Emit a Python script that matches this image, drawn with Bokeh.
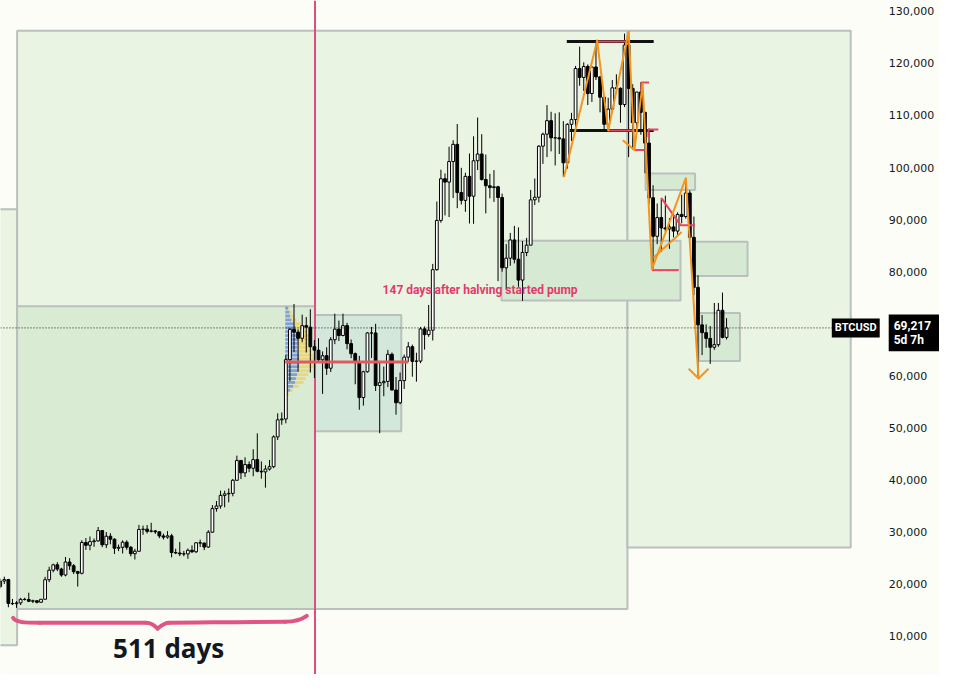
import numpy as np
import pandas as pd
from bokeh.plotting import figure
from bokeh.models import Range1d, FixedTicker, NumeralTickFormatter, Label
from bokeh.core.properties import value
from bokeh.embed import file_html
from bokeh.resources import INLINE

# ---------------------------------------------------------------- data
ORIGIN = pd.Timestamp("2022-11-07")


def wk(d):
    return (pd.Timestamp(d) - ORIGIN) / pd.Timedelta(days=7)


def wks(ds):
    return [wk(d) for d in ds]


K = 1000.0

# weekly BTCUSD candles (thousand USD), weeks starting 2022-10-24
open_k = [
    19.57, 20.63, 20.91, 16.33, 16.28, 16.43, 17.11, 17.09, 16.75, 16.84,
    16.55, 17.13, 20.88, 22.71, 23.74, 22.93, 21.78, 24.28, 23.56, 22.43, 22.12, 28.03, 27.49, 28.19, 28.33, 30.31,
    27.59, 29.23, 28.66, 26.92, 27.10, 28.08, 27.11, 25.88, 26.34, 30.53, 30.59, 30.17, 30.25, 30.08, 29.28, 29.05,
    29.30, 26.10, 26.01, 25.83, 25.84, 26.53, 26.25, 27.97, 27.92, 27.15, 30.01, 34.53, 35.04, 37.07, 37.36, 37.46,
    39.97, 43.78, 41.39, 42.99,
    42.28, 43.94, 41.70, 41.58, 42.12, 42.58, 48.30, 51.57, 51.73, 63.12, 68.95, 68.40, 67.23, 69.65, 69.36, 65.60,
    64.94, 63.10, 63.88, 61.48, 66.95, 68.98, 67.76, 69.65, 66.20, 64.27, 62.70, 55.85, 60.80, 68.25, 68.25, 58.15,
    58.70, 58.95, 64.15, 57.30, 54.85, 59.10, 63.60, 65.60, 62.80, 62.85, 69.03, 67.93, 68.78, 80.40, 89.85, 97.85,
    97.20, 101.15, 104.45, 95.20, 93.70,
    98.30, 94.50, 101.30, 102.60, 97.70, 96.50, 96.15, 96.30, 94.25, 80.75, 82.60, 86.10, 82.40, 78.40, 83.70, 85.10,
    93.80, 94.30, 104.10, 106.40, 109.00, 105.70, 105.70, 105.50, 100.90, 108.30, 109.20, 119.00, 117.30, 119.40,
    114.20, 119.30, 117.40, 113.50, 108.30, 111.20, 115.30, 115.20, 112.10, 123.50, 115.20, 108.60, 114.50, 110.60,
    104.70, 94.20, 86.80, 90.40, 88.40, 88.20, 88.60, 87.80,
    91.00, 90.60, 95.10, 86.60, 77.00, 69.80, 68.30, 67.20, 65.50, 66.00, 72.60, 67.40,
]
high_k = [
    21.09, 21.47, 21.05, 17.19, 16.77, 17.39, 17.42, 18.39, 17.05, 16.96,
    17.18, 21.44, 23.37, 23.95, 24.25, 23.18, 25.25, 25.02, 23.88, 22.60, 28.47, 28.87, 29.18, 28.80, 31.00, 30.32,
    30.04, 29.82, 28.83, 27.63, 28.44, 28.45, 27.36, 26.80, 31.40, 31.27, 31.38, 31.81, 30.44, 30.10, 29.72, 30.20,
    29.68, 26.82, 28.14, 26.41, 26.88, 27.48, 28.05, 28.58, 28.00, 30.38, 35.20, 35.98, 37.98, 37.97, 38.40, 40.22,
    44.70, 43.80, 44.38, 43.59,
    45.92, 48.97, 43.58, 42.85, 43.88, 48.59, 52.82, 52.98, 64.00, 69.17, 73.80, 68.95, 71.76, 71.30, 72.80, 66.88,
    67.23, 64.70, 65.50, 67.45, 71.95, 70.62, 71.95, 70.20, 66.99, 64.50, 63.85, 61.00, 68.40, 69.40, 70.00, 62.73,
    61.80, 65.00, 64.50, 59.80, 60.65, 64.10, 66.50, 66.00, 64.45, 69.40, 69.50, 73.62, 81.50, 93.48, 99.59, 98.87,
    104.00, 105.25, 108.35, 99.95, 99.00,
    102.70, 106.00, 109.60, 106.40, 102.50, 98.80, 99.50, 96.50, 95.00, 85.30, 87.45, 88.80, 88.50, 85.90, 86.50,
    95.70, 97.90, 104.30, 106.70, 111.98, 110.70, 110.40, 110.60, 108.90, 108.50, 110.50, 119.50, 123.20, 120.20,
    119.80, 119.30, 124.50, 117.60, 113.60, 113.40, 116.80, 117.90, 115.40, 125.70, 126.20, 116.00, 113.90, 116.40,
    110.70, 107.50, 96.60, 93.10, 94.10, 94.60, 90.30, 90.60, 91.40,
    94.80, 97.90, 95.60, 90.60, 79.30, 71.70, 69.90, 69.60, 74.00, 74.00, 76.00, 71.10,
]
low_k = [
    19.24, 20.05, 15.59, 16.01, 15.48, 16.03, 16.88, 16.59, 16.40, 16.33,
    16.49, 17.12, 20.41, 22.30, 22.53, 21.45, 21.53, 22.77, 21.97, 19.57, 21.90, 26.60, 26.53, 27.20, 28.17, 27.13,
    26.96, 27.68, 25.82, 26.37, 25.91, 26.62, 25.35, 24.76, 26.25, 29.50, 29.75, 29.95, 29.67, 28.86, 28.60, 28.75,
    25.17, 25.80, 25.40, 25.38, 24.90, 26.00, 26.00, 27.17, 26.56, 27.00, 29.88, 33.95, 34.52, 34.78, 35.74, 36.90,
    39.90, 40.20, 40.60, 41.52,
    40.75, 41.50, 40.28, 38.55, 41.82, 42.30, 47.70, 50.62, 50.90, 59.00, 64.60, 60.80, 66.47, 64.50, 60.66, 59.60,
    62.79, 56.55, 60.20, 60.75, 66.10, 66.70, 67.60, 65.10, 63.40, 58.40, 53.50, 54.30, 60.63, 63.45, 57.10, 49.00,
    56.10, 57.85, 57.20, 52.55, 54.55, 57.50, 62.70, 59.85, 58.90, 62.45, 65.06, 67.50, 66.80, 80.20, 89.40, 90.80,
    90.50, 94.15, 92.20, 92.90, 91.50,
    89.26, 89.20, 99.50, 97.50, 91.20, 94.10, 93.40, 78.20, 80.00, 76.60, 81.15, 81.60, 77.10, 74.40, 83.00, 85.10,
    92.80, 93.30, 100.70, 102.00, 103.10, 100.40, 102.60, 98.20, 99.80, 105.10, 107.50, 115.70, 114.70, 112.00,
    112.60, 116.80, 110.60, 107.30, 107.30, 110.60, 114.70, 108.60, 111.60, 102.00, 103.50, 106.70, 106.30, 98.90,
    93.00, 80.60, 85.30, 83.80, 87.60, 84.40, 86.60, 86.90,
    89.30, 90.20, 86.00, 75.50, 60.00, 64.00, 65.40, 62.30, 65.00, 65.60, 67.20, 67.00,
]
close_k = [
    20.63, 20.91, 16.33, 16.28, 16.43, 17.11, 17.09, 16.75, 16.84, 16.55,
    17.13, 20.88, 22.71, 23.74, 22.93, 21.78, 24.28, 23.56, 22.43, 22.12, 28.03, 27.49, 28.19, 28.33, 30.31, 27.59,
    29.23, 28.66, 26.92, 27.10, 28.08, 27.11, 25.88, 26.34, 30.53, 30.59, 30.17, 30.25, 30.08, 29.28, 29.05, 29.30,
    26.10, 26.01, 25.83, 25.84, 26.53, 26.25, 27.97, 27.92, 27.15, 30.01, 34.53, 35.04, 37.07, 37.36, 37.46, 39.97,
    43.78, 41.39, 42.99, 42.28,
    43.94, 41.70, 41.58, 42.12, 42.58, 48.30, 51.57, 51.73, 63.12, 68.95, 68.40, 67.23, 69.65, 69.36, 65.60, 64.94,
    63.10, 63.88, 61.48, 66.95, 68.98, 67.76, 69.65, 66.20, 64.27, 62.70, 55.85, 60.80, 68.25, 68.25, 58.15, 58.70,
    58.95, 64.15, 57.30, 54.85, 59.10, 63.60, 65.60, 62.80, 62.85, 69.03, 67.93, 68.78, 80.40, 89.85, 97.85, 97.20,
    101.15, 104.45, 95.20, 93.70, 98.30,
    94.50, 101.30, 102.60, 97.70, 96.50, 96.15, 96.30, 94.25, 80.75, 82.60, 86.10, 82.40, 78.40, 83.70, 85.10, 93.80,
    94.30, 104.10, 106.40, 109.00, 105.70, 105.70, 105.50, 100.90, 108.30, 109.20, 119.00, 117.30, 119.40, 114.20,
    119.30, 117.40, 113.50, 108.30, 111.20, 115.30, 115.20, 112.10, 123.50, 115.20, 108.60, 114.50, 110.60, 104.70,
    94.20, 86.80, 90.40, 88.40, 88.20, 88.60, 87.80, 91.00,
    90.60, 95.10, 86.60, 77.00, 69.80, 68.30, 67.20, 65.50, 66.00, 72.60, 67.40, 69.217,
]
last_price = 69217
last_label = "69,217\n5d 7h"
symbol = "BTCUSD"

y_ticks = [10000, 20000, 30000, 40000, 50000, 60000, 70000, 80000, 90000,
           100000, 110000, 120000, 130000]

view_start, view_end = "2022-10-24 12:00", "2027-03-23 07:00"
scale_edge = "2026-11-25 07:00"          # where the price scale begins
price_lo, price_hi = 2687.5, 132062.5

# drawn rectangles (zones)
box_left = ["2022-09-01", "2022-11-22", "2025-10-04", "2022-11-22", "2024-04-16",
            "2025-03-02", "2025-11-04", "2026-01-25", "2026-02-03"]
box_right = ["2022-11-22", "2025-10-04", "2026-10-22", "2024-04-16", "2024-09-11",
             "2026-01-03", "2026-01-28", "2026-04-28", "2026-04-15"]
box_bottom = [8312, 15250, 27060, 15250, 49375, 74500, 95690, 79190, 62875]
box_top = [92000, 126250, 126250, 73375, 71690, 85940, 98875, 85750, 72060]
box_fill = ["#e9f4e2", "#e9f4e2", "#e9f4e2", "#d9ebd2", "#d4e7db",
            "#d6ead3", "#d6ead3", "#d6ead3", "#d6ead3"]

halving_date = "2024-04-16"

# fixed-range volume profile around the halving
vp_start = "2024-02-25"
vp_price_k = [73.0, 72.25, 71.5, 70.75, 70.0, 69.25, 68.5, 67.75, 67.0, 66.25, 65.5, 64.75, 64.0,
              63.25, 62.5, 61.75, 61.0, 60.25, 59.5, 58.75, 58.0, 57.25, 56.5, 55.75, 55.0]
vp_up = [10, 15, 18, 22, 30, 38, 40, 42, 45, 45, 42, 44, 48, 50, 50, 48, 45, 42, 38, 35, 28, 18, 10, 6, 4]
vp_down = [5, 8, 12, 18, 25, 30, 38, 45, 40, 35, 45, 50, 52, 55, 50, 52, 45, 40, 35, 30, 20, 8, 3, 0, 0]
poc_dates, poc_price = ["2024-02-25", "2024-09-23"], 62690

# range lines of the 2025 top
black_dates = [["2025-06-22", "2025-11-18"], ["2025-06-27", "2025-11-18"]]
black_prices = [[124190, 124190], [107125, 107125]]

red_dates = [["2025-08-11", "2025-10-04"], ["2025-09-01", "2025-10-13"],
             ["2025-10-28", "2025-10-28", "2025-11-10"], ["2025-11-09", "2025-11-09", "2025-11-26"],
             ["2025-10-16", "2025-11-02"], ["2025-11-15", "2025-12-31"],
             ["2025-12-01", "2026-01-03", "2026-01-28"]]
red_prices = [[124190, 124190], [107125, 107125],
              [114810, 116310, 116310], [105810, 107310, 107310],
              [103375, 103375], [80310, 80310],
              [94190, 88940, 88940]]

orange_dates = [["2025-06-17", "2025-08-13", "2025-09-01", "2025-10-06", "2025-10-16",
                 "2025-10-30", "2025-11-15", "2026-01-12", "2026-02-03"],
                ["2025-09-26", "2025-10-16"],
                ["2026-01-17", "2026-02-03", "2026-02-20"],
                ["2025-11-18", "2026-01-05"]]
orange_prices = [[98125, 124375, 107125, 126060, 103375, 116125, 80500, 97940, 59500],
                 [105250, 103375],
                 [61375, 59500, 61375],
                 [82750, 87625]]

# curly brace under the 511-day accumulation
brace_start = ["2022-11-15", "2022-12-31", "2023-07-01", "2023-07-21", "2023-08-10", "2024-02-25"]
brace_end = ["2022-12-31", "2023-07-01", "2023-07-21", "2023-08-10", "2024-02-25", "2024-04-02"]
brace_c0 = ["2022-11-20", "2023-03-01", "2023-07-11", "2023-07-25", "2023-10-01", "2024-03-16"]
brace_c1 = ["2022-12-05", "2023-05-01", "2023-07-18", "2023-08-01", "2023-12-01", "2024-03-26"]
brace_p0 = [13562, 12625, 12625, 11500, 12625, 12812]
brace_p1 = [12625, 12625, 11500, 12625, 12812, 13937]
brace_cp0 = [12625, 12625, 12625, 11875, 12625, 12812]
brace_cp1 = [12625, 12625, 11875, 12625, 12812, 13375]

texts = ["511 days", "147 days after halving started pump"]
text_dates = ["2023-08-09", "2024-08-10"]
text_prices = [7750, 76560]

# ---------------------------------------------------------------- figure
BG = "#fbfdf6"

n = min(len(open_k), len(high_k), len(low_k), len(close_k))
week_start = pd.date_range("2022-10-24", periods=n, freq="7D")
x = np.array(wks(week_start))
o = np.array(open_k[:n]) * K
h = np.array(high_k[:n]) * K
l = np.array(low_k[:n]) * K
c = np.array(close_k[:n]) * K

p = figure(width=939, height=674,
           x_range=Range1d(wk(view_start), wk(view_end)),
           y_range=Range1d(price_lo, price_hi),
           x_axis_location=None, y_axis_location="right",
           output_backend="svg", toolbar_location=None,
           min_border_left=0, min_border_top=0, min_border_bottom=0, min_border_right=0,
           background_fill_color=BG, border_fill_color=BG)
p.outline_line_color = None
p.grid.visible = False

xs_edge = wk(scale_edge)
ax = p.yaxis[0]
ax.fixed_location = xs_edge
ax.ticker = FixedTicker(ticks=y_ticks)
ax.formatter = NumeralTickFormatter(format="0,0")
ax.axis_line_color = None
ax.major_tick_line_color = None
ax.minor_tick_line_color = None
ax.major_tick_out = 0
ax.major_tick_in = 0
ax.major_label_standoff = 18
ax.major_label_text_font = "DejaVu Sans"
ax.major_label_text_font_size = "11px"
ax.major_label_text_color = "#131722"

# zones
p.quad(left=wks(box_left), right=wks(box_right), bottom=box_bottom, top=box_top,
       fill_color=box_fill, line_color="#b9c0bd", line_width=2)

# volume profile
vp_y = np.array(vp_price_k) * K
scale = 7.2 / 105.0
vx0 = wk(vp_start)
up_r = vx0 + np.array(vp_up) * scale
p.hbar(y=vp_y, left=vx0, right=up_r, height=560, fill_color="#5d7fdc", fill_alpha=0.7, line_color=None)
p.hbar(y=vp_y, left=up_r, right=up_r + np.array(vp_down) * scale, height=560,
       fill_color="#f2cf5b", fill_alpha=0.75, line_color=None)

# halving line
p.segment(x0=[wk(halving_date)], y0=[price_lo], x1=[wk(halving_date)], y1=[price_hi],
          line_color="#dc4f80", line_width=2)

# candles
inc = c >= o
dec = ~inc
p.segment(x0=x, y0=np.minimum(l, np.minimum(o, c)), x1=x, y1=np.maximum(h, np.maximum(o, c)),
          line_color="black", line_width=1)
p.vbar(x=x[inc], width=0.68, bottom=o[inc], top=c[inc], fill_color="white", line_color="black", line_width=1)
p.vbar(x=x[dec], width=0.68, bottom=c[dec], top=o[dec], fill_color="black", line_color="black", line_width=1)

# POC line
p.line(x=wks(poc_dates), y=[poc_price, poc_price], line_color="#e05c5c", line_width=3)

# range lines
p.multi_line(xs=[wks(d) for d in black_dates], ys=black_prices, line_color="#111111", line_width=3)
p.multi_line(xs=[wks(d) for d in red_dates], ys=red_prices, line_color="#e8465e", line_width=2)
p.multi_line(xs=[wks(d) for d in orange_dates], ys=orange_prices, line_color="#f7931a", line_width=2,
             line_join="round")

# current price line (stops at the price scale)
p.segment(x0=[wk(view_start)], y0=[last_price], x1=[xs_edge], y1=[last_price],
          line_color="#222222", line_width=1, line_dash="1 2")

# brace
p.bezier(x0=wks(brace_start), y0=brace_p0, x1=wks(brace_end), y1=brace_p1,
         cx0=wks(brace_c0), cy0=brace_cp0, cx1=wks(brace_c1), cy1=brace_cp1,
         line_color="#e05585", line_width=4, line_cap="round")

# texts
p.text(x=[wk(text_dates[0])], y=[text_prices[0]], text=[texts[0]], text_font=value("Open Sans"),
       text_font_style="bold", text_font_size="26px", text_align="center", text_baseline="middle",
       text_color="#131722")
p.text(x=[wk(text_dates[1])], y=[text_prices[1]], text=[texts[1]], text_font=value("Roboto"),
       text_font_style="bold", text_font_size="12px", text_align="left", text_baseline="middle",
       text_color="#e23a6a")

# price scale labels
p.add_layout(Label(x=xs_edge, y=last_price, text=symbol, x_offset=9,
                   text_align="right", text_baseline="middle",
                   text_font="Roboto", text_font_style="bold", text_font_size="11px", text_color="white",
                   background_fill_color="black", padding=3))
p.add_layout(Label(x=xs_edge, y=last_price, text=last_label, x_offset=18, y_offset=-5,
                   text_align="left", text_baseline="middle", text_font="Roboto", text_font_style="bold",
                   text_font_size="12px", text_color="white", text_line_height=1.05,
                   background_fill_color="black",
                   padding=dict(left=5, right=8, top=4, bottom=4)))

open("out.html", "w").write(file_html(p, INLINE))
